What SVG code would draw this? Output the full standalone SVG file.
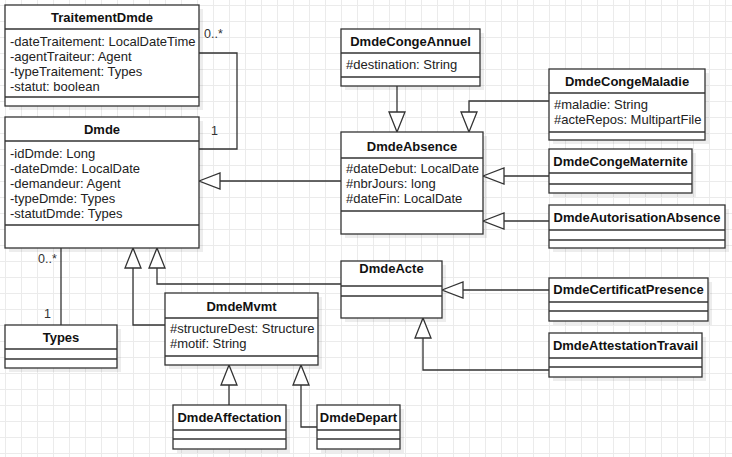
<svg xmlns="http://www.w3.org/2000/svg" width="732" height="457" viewBox="0 0 732 457">
<style>
.box{fill:#fff;stroke:#333;stroke-width:1.3}
.sh{fill:#000;opacity:0.07}
.sep{stroke:#333;stroke-width:1.3}
.t{font-family:"Liberation Sans",Arial,sans-serif;font-size:13px;font-weight:bold;fill:#111;text-anchor:middle}
.a{font-family:"Liberation Sans",Arial,sans-serif;font-size:13px;fill:#222}
.m{font-family:"Liberation Sans",Arial,sans-serif;font-size:12.5px;fill:#333}
.ln{fill:none;stroke:#333;stroke-width:1.3}
.tri{fill:#fff;stroke:#333;stroke-width:1.3}
</style>
<defs>
<pattern id="grid" x="5" y="5" width="16" height="16" patternUnits="userSpaceOnUse">
<path d="M0 0.5H16M0.5 0V16" fill="none" stroke="#ebebeb" stroke-width="1"/>
</pattern>
</defs>
<rect width="732" height="457" fill="#fff"/>
<rect width="732" height="457" fill="url(#grid)"/>

<g id="connectors">
<!-- TraitementDmde - Dmde association -->
<polyline class="ln" points="199,53 237,53 237,149 199,149"/>
<text class="m" x="204" y="38">0..*</text>
<text class="m" x="211" y="135">1</text>
<!-- Dmde - Types -->
<line class="ln" x1="61" y1="248" x2="61" y2="325"/>
<text class="m" x="38" y="263">0..*</text>
<text class="m" x="44" y="318">1</text>
<!-- DmdeAbsence -> Dmde -->
<line class="ln" x1="341" y1="181" x2="220" y2="181"/>
<polygon class="tri" points="199,181 220,173 220,189"/>
<!-- DmdeMvmt -> Dmde -->
<polyline class="ln" points="165,325 133,325 133,268"/>
<polygon class="tri" points="133,248 125,268 141,268"/>
<!-- DmdeActe -> Dmde -->
<polyline class="ln" points="342,284 157,284 157,268"/>
<polygon class="tri" points="157,248 149,268 165,268"/>
<!-- DmdeCongeAnnuel -> DmdeAbsence -->
<line class="ln" x1="397" y1="86" x2="397" y2="112"/>
<polygon class="tri" points="397,132 389,112 405,112"/>
<!-- DmdeCongeMaladie -> DmdeAbsence -->
<polyline class="ln" points="549,101 469,101 469,112"/>
<polygon class="tri" points="469,132 461,112 477,112"/>
<!-- DmdeCongeMaternite -> DmdeAbsence -->
<line class="ln" x1="549" y1="176" x2="504" y2="176"/>
<polygon class="tri" points="483,176 504,168 504,184"/>
<!-- DmdeAutorisationAbsence -> DmdeAbsence -->
<line class="ln" x1="549" y1="221" x2="504" y2="221"/>
<polygon class="tri" points="483,221 504,213 504,229"/>
<!-- DmdeCertificatPresence -> DmdeActe -->
<line class="ln" x1="549" y1="290" x2="463" y2="290"/>
<polygon class="tri" points="442,290 463,282 463,298"/>
<!-- DmdeAttestationTravail -> DmdeActe -->
<polyline class="ln" points="549,370 423,370 423,338"/>
<polygon class="tri" points="423,318 415,338 431,338"/>
<!-- DmdeAffectation -> DmdeMvmt -->
<line class="ln" x1="229" y1="405" x2="229" y2="385"/>
<polygon class="tri" points="229,365 221,385 237,385"/>
<!-- DmdeDepart -> DmdeMvmt -->
<polyline class="ln" points="317,427 301,427 301,385"/>
<polygon class="tri" points="301,365 293,385 309,385"/>
</g>

<g id="TraitementDmde">
<rect class="sh" x="9" y="9" width="194" height="101"/>
<rect class="box" x="5" y="5" width="194" height="101"/>
<line class="sep" x1="5" y1="29" x2="199" y2="29"/>
<line class="sep" x1="5" y1="97" x2="199" y2="97"/>
<text class="t" x="102" y="22">TraitementDmde</text>
<text class="a" x="10" y="46">-dateTraitement: LocalDateTime</text>
<text class="a" x="10" y="61">-agentTraiteur: Agent</text>
<text class="a" x="10" y="76">-typeTraitement: Types</text>
<text class="a" x="10" y="91">-statut: boolean</text>
</g>

<g id="Dmde">
<rect class="sh" x="9" y="121" width="194" height="131"/>
<rect class="box" x="5" y="117" width="194" height="131"/>
<line class="sep" x1="5" y1="141" x2="199" y2="141"/>
<line class="sep" x1="5" y1="225" x2="199" y2="225"/>
<text class="t" x="102" y="134">Dmde</text>
<text class="a" x="10" y="158">-idDmde: Long</text>
<text class="a" x="10" y="173">-dateDmde: LocalDate</text>
<text class="a" x="10" y="188">-demandeur: Agent</text>
<text class="a" x="10" y="203">-typeDmde: Types</text>
<text class="a" x="10" y="218">-statutDmde: Types</text>
</g>

<g id="Types">
<rect class="sh" x="9" y="329" width="112" height="43"/>
<rect class="box" x="5" y="325" width="112" height="43"/>
<line class="sep" x1="5" y1="349" x2="117" y2="349"/>
<line class="sep" x1="5" y1="359" x2="117" y2="359"/>
<text class="t" x="61" y="342">Types</text>
</g>

<g id="DmdeCongeAnnuel">
<rect class="sh" x="345" y="33" width="139" height="57"/>
<rect class="box" x="341" y="29" width="139" height="57"/>
<line class="sep" x1="341" y1="53" x2="480" y2="53"/>
<line class="sep" x1="341" y1="77" x2="480" y2="77"/>
<text class="t" x="410.5" y="46">DmdeCongeAnnuel</text>
<text class="a" x="346" y="69">#destination: String</text>
</g>

<g id="DmdeAbsence">
<rect class="sh" x="345" y="136" width="142" height="102"/>
<rect class="box" x="341" y="132" width="142" height="102"/>
<line class="sep" x1="341" y1="158" x2="483" y2="158"/>
<line class="sep" x1="341" y1="211" x2="483" y2="211"/>
<text class="t" x="412" y="151">DmdeAbsence</text>
<text class="a" x="346" y="173">#dateDebut: LocalDate</text>
<text class="a" x="346" y="188">#nbrJours: long</text>
<text class="a" x="346" y="203">#dateFin: LocalDate</text>
</g>

<g id="DmdeCongeMaladie">
<rect class="sh" x="553" y="73" width="156" height="71"/>
<rect class="box" x="549" y="69" width="156" height="71"/>
<line class="sep" x1="549" y1="93" x2="705" y2="93"/>
<line class="sep" x1="549" y1="132" x2="705" y2="132"/>
<text class="t" x="627" y="86">DmdeCongeMaladie</text>
<text class="a" x="554" y="109">#maladie: String</text>
<text class="a" x="554" y="124">#acteRepos: MultipartFile</text>
</g>

<g id="DmdeCongeMaternite">
<rect class="sh" x="553" y="153" width="143" height="44"/>
<rect class="box" x="549" y="149" width="143" height="44"/>
<line class="sep" x1="549" y1="173" x2="692" y2="173"/>
<line class="sep" x1="549" y1="184" x2="692" y2="184"/>
<text class="t" x="620.5" y="166">DmdeCongeMaternite</text>
</g>

<g id="DmdeAutorisationAbsence">
<rect class="sh" x="553" y="209" width="176" height="43"/>
<rect class="box" x="549" y="205" width="176" height="43"/>
<line class="sep" x1="549" y1="230" x2="725" y2="230"/>
<line class="sep" x1="549" y1="240" x2="725" y2="240"/>
<text class="t" x="637" y="222">DmdeAutorisationAbsence</text>
</g>

<g id="DmdeActe">
<rect class="sh" x="345" y="265" width="101" height="57"/>
<rect class="box" x="341" y="261" width="101" height="57"/>
<line class="sep" x1="341" y1="286" x2="442" y2="286"/>
<line class="sep" x1="341" y1="296" x2="442" y2="296"/>
<text class="t" x="391.5" y="273">DmdeActe</text>
</g>

<g id="DmdeCertificatPresence">
<rect class="sh" x="553" y="282" width="159" height="43"/>
<rect class="box" x="549" y="278" width="159" height="43"/>
<line class="sep" x1="549" y1="302" x2="708" y2="302"/>
<line class="sep" x1="549" y1="311" x2="708" y2="311"/>
<text class="t" x="628.5" y="294">DmdeCertificatPresence</text>
</g>

<g id="DmdeAttestationTravail">
<rect class="sh" x="553" y="337" width="153" height="44"/>
<rect class="box" x="549" y="333" width="153" height="44"/>
<line class="sep" x1="549" y1="358" x2="702" y2="358"/>
<line class="sep" x1="549" y1="367" x2="702" y2="367"/>
<text class="t" x="625.5" y="350">DmdeAttestationTravail</text>
</g>

<g id="DmdeMvmt">
<rect class="sh" x="169" y="297" width="153" height="72"/>
<rect class="box" x="165" y="293" width="153" height="72"/>
<line class="sep" x1="165" y1="318" x2="318" y2="318"/>
<line class="sep" x1="165" y1="356" x2="318" y2="356"/>
<text class="t" x="241.5" y="311">DmdeMvmt</text>
<text class="a" x="170" y="333">#structureDest: Structure</text>
<text class="a" x="170" y="348">#motif: String</text>
</g>

<g id="DmdeAffectation">
<rect class="sh" x="177" y="409" width="113" height="44"/>
<rect class="box" x="173" y="405" width="113" height="44"/>
<line class="sep" x1="173" y1="430" x2="286" y2="430"/>
<line class="sep" x1="173" y1="439" x2="286" y2="439"/>
<text class="t" x="229.5" y="422">DmdeAffectation</text>
</g>

<g id="DmdeDepart">
<rect class="sh" x="321" y="409" width="83" height="44"/>
<rect class="box" x="317" y="405" width="83" height="44"/>
<line class="sep" x1="317" y1="430" x2="400" y2="430"/>
<line class="sep" x1="317" y1="439" x2="400" y2="439"/>
<text class="t" x="358.5" y="422">DmdeDepart</text>
</g>
</svg>
